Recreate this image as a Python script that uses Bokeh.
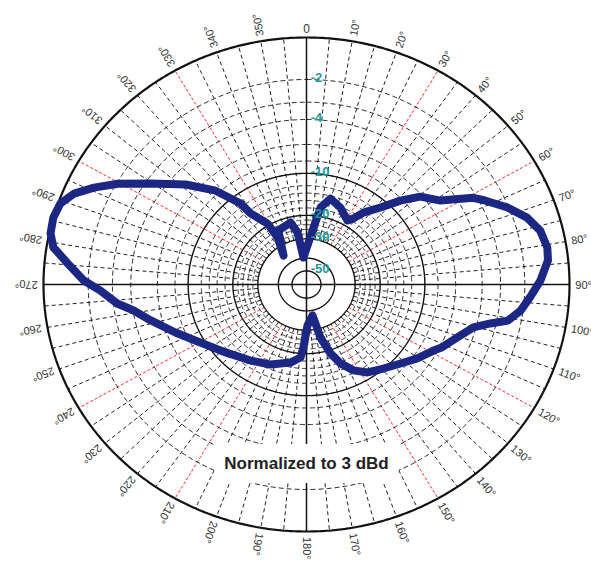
import numpy as np
from bokeh.plotting import figure
from bokeh.models import Range1d, Label
from bokeh.embed import file_html
from bokeh.resources import INLINE
from bokeh.core.properties import value

# ---- chart scale (dB -> fraction of outer radius) ----
scale_db = [-60, -50, -40, -30, -20, -12, -10, -8, -6, -4, -3, -2, 0]
scale_r = [0.0, 0.055, 0.107, 0.185, 0.28, 0.40, 0.45, 0.50, 0.567, 0.668, 0.738, 0.83, 1.0]

solid_rings_db = [-10, -20, -30, -40, -50]
dashed_rings_db = [-2, -3, -4, -6, -8, -12, -14, -16, -18, -22, -24, -26, -28]
db_label_values = [-2, -4, -10, -20, -30, -50]
db_label_texts = ["-2", "-4", "-10", "-20", "-30", "-50"]

angle_ticks = list(range(10, 360, 10))
angle_tick_labels = [f"{a}°" for a in angle_ticks]
title_text = "Normalized to 3 dBd"

# ---- measured pattern (bearing in degrees, level in dB) ----
pattern_bearing = [354.0, 6.0, 9.7, 14.7, 22.5, 31.0, 33.8, 36.6, 42.1, 46.4,
                   50.6, 56.3, 61.0, 63.2, 67.8, 72.1, 76.2, 80.7, 83.9, 89.0,
                   93.5, 97.4, 100.8, 102.7, 105.3, 110.5, 116.6, 119.0, 125.4, 131.8,
                   139.3, 146.9, 152.8, 158.0, 161.9, 166.1, 167.8, 169.7, 178.7, 182.6,
                   184.4, 190.9, 202.9, 214.7, 228.2, 239.8, 248.7, 256.2, 260.9, 263.9,
                   268.2, 271.1, 275.3, 278.9, 282.0, 285.7, 289.3, 292.6, 295.9, 299.6,
                   304.6, 311.4, 317.7, 322.6, 323.5, 329.0, 330.1, 323.3, 334.0, 346.4,
                   350.8, 354.0]
pattern_db = [-39.6, -26.3, -17.6, -14.7, -16.2, -18.5, -17.2, -14.5, -11.2, -8.3,
              -6.2, -5.1, -3.2, -2.8, -2.05, -1.4, -1.0, -0.85, -0.9, -1.3,
              -1.75, -2.1, -2.55, -3.3, -4.2, -5.1, -5.9, -6.45, -7.5, -8.8,
              -10.05, -11.0, -12.6, -15.7, -19.1, -26.2, -33.0, -37.4, -32.4, -22.6,
              -18.9, -17.2, -15.2, -13.7, -11.5, -9.3, -6.95, -5.15, -4.05, -3.2,
              -2.5, -1.8, -1.05, -0.3, -0.06, 0.0, -0.1, -0.5, -1.2, -2.05,
              -3.25, -5.1, -7.6, -11.5, -14.8, -19.5, -26.3, -35.0, -23.8, -22.3,
              -27.0, -39.6]


def radius(db):
    return np.interp(db, scale_db, scale_r)


def polar(bearing_deg, r):
    b = np.radians(np.asarray(bearing_deg, dtype=float))
    return r * np.sin(b), r * np.cos(b)


W, H = 591, 563
CX, CY, RX, RY = 306.0, 284.0, 263.0, 247.0
p = figure(width=W, height=H, output_backend="svg", toolbar_location=None,
           x_range=Range1d(-CX / RX, (W - CX) / RX),
           y_range=Range1d((CY - H) / RY, CY / RY),
           min_border=0, outline_line_color=None)
p.axis.visible = False
p.grid.visible = False
p.background_fill_color = "white"
p.border_fill_color = "white"

theta = np.linspace(0, 360, 721)
r_in = radius(-30)

# radial grid lines every 5 degrees
rad_black_xs, rad_black_ys, rad_red_xs, rad_red_ys = [], [], [], []
for a in range(0, 360, 5):
    if a % 90 == 0:
        continue
    x0, y0 = polar(a, r_in)
    x1, y1 = polar(a, 1.0)
    if a % 30 == 0:
        rad_red_xs.append([x0, x1]); rad_red_ys.append([y0, y1])
    else:
        rad_black_xs.append([x0, x1]); rad_black_ys.append([y0, y1])
p.multi_line(rad_black_xs, rad_black_ys, line_color="#222222", line_width=1, line_dash="4 3")
p.multi_line(rad_red_xs, rad_red_ys, line_color="#ff2a2a", line_width=1, line_dash="3 2")

# dashed rings
dxs, dys = [], []
for d in dashed_rings_db:
    x, y = polar(theta, radius(d))
    dxs.append(x); dys.append(y)
p.multi_line(dxs, dys, line_color="#222222", line_width=1, line_dash="5 3")

# solid rings
sxs, sys_ = [], []
for d in solid_rings_db:
    x, y = polar(theta, radius(d))
    sxs.append(x); sys_.append(y)
p.multi_line(sxs, sys_, line_color="#111111", line_width=1.4)

# outer ring
ox, oy = polar(theta, 1.0)
p.line(ox, oy, line_color="#111111", line_width=2.2)

# main axes
ax_x, ax_y = polar([0, 180], 1.0)
p.line(ax_x, ax_y, line_color="#111111", line_width=1.5)
ax_x, ax_y = polar([90, 270], 1.0)
p.line(ax_x, ax_y, line_color="#111111", line_width=1.5)

# pattern
px, py = polar(pattern_bearing, radius(np.array(pattern_db)))
p.line(px, py, line_color="#1c2784", line_width=8, line_join="round", line_cap="round")

# dB labels along the 0-degree axis
lab_r = radius(np.array(db_label_values))
p.text(x=np.full(len(lab_r), 0.016), y=lab_r, text=db_label_texts,
       text_color="#1e9a98", text_font=value("Liberation Sans"), text_font_size="13px",
       text_font_style="bold", text_align="left", text_baseline="middle", y_offset=-2)

# bearing labels
lx, ly = polar(angle_ticks, 1.022)
ang = np.radians(90 - np.array(angle_ticks, dtype=float))
p.text(x=lx, y=ly, text=angle_tick_labels, angle=ang, text_color="#333333",
       text_font=value("Liberation Sans"), text_font_size="11px",
       text_align="left", text_baseline="middle")
zx, zy = polar([0], 1.02)
p.text(x=zx, y=zy, text=["0"], text_color="#333333", text_font=value("Liberation Sans"),
       text_font_size="12px", text_align="center", text_baseline="bottom")

p.add_layout(Label(x=0, y=(CY - 463) / RY, text=title_text, text_align="center",
                   text_baseline="middle", text_font="Liberation Sans",
                   text_font_size="17px", text_font_style="bold", text_color="#222222",
                   background_fill_color="white", padding=10))

open("out.html", "w").write(file_html(p, INLINE))
